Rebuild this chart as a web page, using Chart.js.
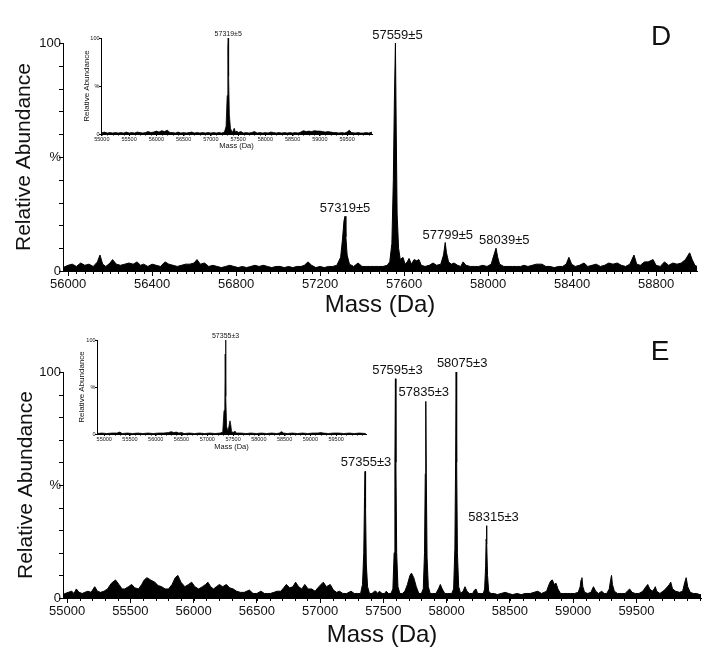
<!DOCTYPE html>
<html>
<head>
<meta charset="utf-8">
<script src="https://cdn.jsdelivr.net/npm/chart.js@4"></script>
<style>
  body { margin: 0; background: #fff; }
  #wrap { position: relative; width: 720px; height: 660px; }
  canvas { position: absolute; }
</style>
</head>
<body>
<div id="wrap">
  <canvas id="mainD" width="720" height="325" style="left:0;top:0"></canvas>
  <canvas id="mainE" width="720" height="335" style="left:0;top:325px"></canvas>
  <canvas id="insetD" width="330" height="140" style="left:60px;top:15px"></canvas>
  <canvas id="insetE" width="330" height="140" style="left:56px;top:320px"></canvas>
</div>
<script>
// panel D, main spectrum: [mass (Da), relative abundance %]
const spectrumD = [
  [55976,1.5],[56000,2.5],[56020,3],[56040,2],[56060,3.5],[56080,2.5],[56100,3],[56120,2],[56140,4],[56152,7],[56165,3],
  [56180,2],[56200,3.5],[56212,5],[56230,3],[56250,2.5],[56270,3],[56290,3.5],[56310,3],[56329,4],[56345,2.5],[56360,3],
  [56380,2],[56400,3],[56420,2.5],[56440,2],[56462,4],[56480,3],[56500,2.5],[56520,2],[56540,2.5],[56560,3],[56580,3],
  [56600,3.5],[56614,5],[56630,3],[56650,3.5],[56670,2],[56690,2.5],[56710,2],[56730,1.5],[56750,2],[56770,2.5],[56790,2],
  [56810,1.5],[56830,2],[56850,1.5],[56870,2],[56890,2.5],[56910,2],[56930,2.5],[56950,2],[56970,1.5],[56990,2],[57010,2],
  [57030,1.5],[57050,2],[57070,1.5],[57090,2],[57110,2],[57125,2.5],[57143,4],[57160,2.5],[57180,1.5],[57200,2],[57220,1.5],
  [57240,2],[57260,2],[57280,2.5],[57298,6],[57307,14],[57314,22],[57319,24],[57323,15],[57329,7],[57340,3],[57360,2],
  [57381,3.5],[57400,2],[57420,2],[57440,2],[57460,2],[57480,2],[57500,2],[57520,2.5],[57532,4],[57542,12],[57549,40],
  [57554,75],[57559,100],[57563,60],[57567,25],[57574,10],[57582,5],[57595,6],[57605,3],[57615,4],[57624,5.5],[57635,3],
  [57648,5],[57660,4.5],[57671,5],[57682,2.5],[57700,2],[57720,2.5],[57738,3.5],[57755,2.5],[57775,3],[57788,7],[57796,12.5],
  [57802,8],[57812,4],[57825,3],[57838,3.5],[57855,2.5],[57870,2],[57881,4],[57895,2.5],[57915,2],[57935,2],[57955,2],
  [57975,2.5],[57995,2],[58015,3],[58028,7],[58038,10],[58046,6],[58055,3],[58075,2],[58095,2],[58115,2],[58135,2],
  [58155,2],[58171,2.5],[58190,2],[58210,2.5],[58230,3],[58245,3],[58257,3],[58275,2],[58295,2],[58315,1.5],[58335,2],
  [58355,2],[58372,3],[58385,6],[58398,3],[58415,2],[58435,2.5],[58457,3.5],[58475,2],[58495,2.5],[58515,3],[58535,2],
  [58555,2.5],[58575,3.5],[58595,3],[58615,3.5],[58635,2.5],[58655,2],[58675,3],[58695,7],[58708,3],[58725,2.5],[58745,4],
  [58762,4],[58786,5],[58800,2.5],[58820,2],[58840,4],[58860,2.5],[58880,3.5],[58900,3],[58920,3.5],[58940,5],[58960,8],
  [58972,5],[58985,2.5],[58995,2]
];
const peakMassD = [57319, 57559, 57799, 58039];
const peakLabelsD = ['57319±5', '57559±5', '57799±5', '58039±5'];
const ticksD = [56000, 56400, 56800, 57200, 57600, 58000, 58400, 58800];

// panel D, inset spectrum
const insetSpectrumD = [
  [54985,1],[55050,2],[55100,1],[55150,1.5],[55200,1],[55250,1.5],[55300,1],[55350,1.5],[55400,1],[55450,2],[55500,1],
  [55550,1.5],[55600,1],[55650,2],[55700,1.5],[55750,1],[55800,1.5],[55850,2.5],[55900,1.5],[55950,2],[56000,3],[56050,2],
  [56100,3.5],[56150,2.5],[56200,4],[56250,1.5],[56300,1.5],[56350,1],[56400,2],[56450,1],[56500,1.5],[56550,1],[56600,1.5],
  [56650,2],[56700,1],[56750,1.5],[56800,1],[56850,1.5],[56900,1],[56950,1.5],[57000,1],[57050,1.5],[57100,1],[57150,1.5],
  [57200,1],[57250,2],[57280,8],[57300,40],[57312,90],[57319,100],[57326,60],[57340,20],[57360,6],[57380,3],[57400,2],
  [57430,6],[57450,2],[57480,3],[57500,1.5],[57550,2.5],[57600,1],[57650,1.5],[57700,1],[57750,1.5],[57800,2.5],[57850,1],
  [57900,1.5],[57950,1],[58000,1.5],[58050,1],[58100,2],[58150,1.5],[58200,1],[58250,1.5],[58300,1],[58350,1.5],[58400,1],
  [58450,1.5],[58500,1],[58550,1.5],[58600,1],[58650,2],[58700,3.5],[58750,2.5],[58800,3],[58850,2.5],[58900,3.5],[58950,3],
  [59000,3],[59050,2.5],[59100,2],[59150,2.5],[59200,2],[59250,1.5],[59300,1.5],[59350,1],[59400,1.5],[59450,1],[59500,2],
  [59540,4],[59580,1.5],[59650,1],[59700,1.5],[59750,1],[59800,1],[59850,1.5],[59900,1],[59955,2]
];
const insetPeakMassD = [57319];
const insetPeakLabelsD = ['57319±5'];
const insetTicks = [55000, 55500, 56000, 56500, 57000, 57500, 58000, 58500, 59000, 59500];

// panel E, main spectrum
const spectrumE = [
  [54968,1.5],[54985,2],[55010,2.5],[55037,3],[55055,2],[55073,4],[55095,2.5],[55120,2],[55140,2.5],[55165,3],[55190,2.5],
  [55219,5],[55240,3],[55265,2.5],[55292,3],[55320,4],[55350,6.5],[55383,8],[55410,6],[55435,4],[55456,4],[55485,5],
  [55511,6],[55535,4.5],[55565,4],[55590,6],[55610,8],[55631,9],[55660,8],[55693,7],[55720,5.5],[55748,5],[55775,4],
  [55802,4],[55830,6],[55855,9],[55876,10],[55900,7],[55931,5],[55960,6],[55985,7],[56010,5],[56040,4],[56070,5],[56095,6],
  [56113,7],[56135,5],[56157,4],[56180,5],[56204,6],[56230,5],[56259,6],[56285,4.5],[56313,4],[56340,3],[56370,2.5],
  [56400,2.5],[56441,3.5],[56470,2],[56500,2],[56532,3],[56560,2],[56585,2],[56606,2],[56635,2.5],[56660,3],[56690,3],
  [56712,4.5],[56733,6],[56760,4.5],[56785,5],[56806,7],[56830,5],[56855,4],[56879,6],[56905,4],[56934,4],[56960,3],
  [56990,5],[57025,7],[57050,5],[57080,6],[57105,3.5],[57130,2.5],[57153,3],[57180,2],[57210,2],[57244,3],[57270,2],
  [57298,2],[57320,2],[57335,6],[57345,20],[57351,45],[57355,56],[57359,40],[57365,15],[57375,5],[57390,2],[57410,2],
  [57430,3],[57441,3],[57455,2],[57468,3],[57490,2],[57510,2],[57522,3],[57540,2],[57560,2],[57575,4],[57585,20],[57591,60],
  [57595,97],[57599,60],[57605,20],[57615,5],[57630,2],[57650,2],[57670,3],[57690,6],[57710,10],[57722,11],[57740,9],
  [57760,5],[57780,2],[57800,2],[57815,4],[57825,20],[57831,55],[57835,87],[57839,55],[57845,18],[57855,5],[57870,2],
  [57890,2],[57915,2],[57935,4],[57950,6],[57965,4],[57985,2],[58005,2],[58025,2],[58040,2],[58055,4],[58065,22],[58071,62],
  [58075,100],[58079,60],[58085,20],[58095,5],[58110,2],[58130,3],[58145,5],[58160,3],[58180,2],[58205,2],[58220,3.5],
  [58232,4],[58245,2],[58270,2],[58290,2],[58300,4],[58308,14],[58312,26],[58315,32],[58318,24],[58323,10],[58332,3],
  [58350,2],[58377,2],[58400,1.5],[58430,2],[58463,2.5],[58490,2],[58520,1.5],[58557,2],[58590,1.5],[58620,2],[58660,2],
  [58690,2.5],[58720,3],[58750,2],[58790,3],[58809,6],[58822,7.5],[58835,8],[58850,6],[58865,6.5],[58879,4],[58900,2],
  [58925,2],[58952,2],[58980,2],[59010,2],[59040,2.5],[59055,5],[59062,8],[59069,9],[59076,5],[59090,2.5],[59115,2],
  [59140,2.5],[59160,5],[59178,3],[59200,2],[59225,3],[59245,2],[59265,2],[59285,4],[59296,8],[59303,10],[59310,6],
  [59325,3],[59350,2],[59380,2],[59410,2],[59446,4],[59465,2.5],[59490,2],[59520,2],[59550,3],[59575,5],[59589,6],
  [59605,4],[59625,3],[59640,4],[59649,5],[59660,3],[59685,2],[59710,3],[59730,4],[59745,5],[59760,6],[59771,7],[59785,4],
  [59810,3],[59840,2.5],[59865,3],[59882,7],[59893,9],[59905,5],[59925,2.5],[59950,2],[59975,2],[60000,1.5],[60010,1.5]
];
const peakMassE = [57355, 57595, 57835, 58075, 58315];
const peakLabelsE = ['57355±3', '57595±3', '57835±3', '58075±3', '58315±3'];
const ticksE = [55000, 55500, 56000, 56500, 57000, 57500, 58000, 58500, 59000, 59500];

// panel E, inset spectrum
const insetSpectrumE = [
  [54865,0.5],[54950,1],[55050,0.5],[55150,1],[55250,1],[55300,2],[55350,0.5],[55450,1],[55550,0.5],[55650,1],[55750,0.5],
  [55850,1],[55950,0.5],[56050,1],[56150,1],[56250,1.5],[56300,2.5],[56350,1.5],[56400,2],[56450,1],[56500,1.5],[56550,0.5],
  [56650,1],[56750,0.5],[56850,1],[56950,0.5],[57050,1],[57150,0.5],[57250,1],[57300,2],[57325,25],[57340,28],[57348,85],
  [57355,100],[57362,40],[57375,8],[57400,3],[57420,8],[57440,14],[57455,10],[57470,3],[57500,1.5],[57540,3],[57560,1],
  [57650,1],[57750,0.5],[57850,1],[57950,0.5],[58050,1],[58150,0.5],[58250,1],[58350,0.5],[58400,1],[58440,2.5],[58480,1],
  [58550,0.5],[58650,1],[58750,0.5],[58850,1],[58950,0.5],[59050,1],[59150,1],[59200,1.5],[59250,1],[59350,0.5],[59450,1],
  [59550,1],[59650,0.5],[59750,1],[59850,0.5],[59950,1],[60075,0.5]
];
const insetPeakMassE = [57355];
const insetPeakLabelsE = ['57355±3'];

const FONT = '"Liberation Sans", Arial, sans-serif';
Chart.defaults.font.family = FONT;
Chart.defaults.color = '#111';

function range(a, b, step) {
  const out = [];
  for (let v = a; v <= b; v += step) out.push(v);
  return out;
}

function peakTop(spec, m) {
  let top = 0;
  spec.forEach(p => { if (Math.abs(p[0] - m) <= 15 && p[1] > top) top = p[1]; });
  return top;
}

// small tick marks that Chart.js has no option for
const minorTicks = {
  id: 'minorTicks',
  afterDraw(chart, args, opts) {
    const {ctx, scales: {x, y}} = chart;
    ctx.save();
    ctx.strokeStyle = '#000';
    ctx.lineWidth = 1;
    ctx.beginPath();
    opts.x.forEach(v => {
      const px = Math.round(x.getPixelForValue(v)) + 0.5;
      ctx.moveTo(px, y.bottom);
      ctx.lineTo(px, y.bottom + opts.lenX);
    });
    opts.y.forEach(v => {
      const py = Math.round(y.getPixelForValue(v)) + 0.5;
      ctx.moveTo(x.left, py);
      ctx.lineTo(x.left - opts.lenY, py);
    });
    ctx.stroke();
    ctx.restore();
  }
};

const peakLabels = {
  id: 'peakLabels',
  afterDatasetsDraw(chart, args, opts) {
    const {ctx, scales: {x, y}} = chart;
    ctx.save();
    ctx.fillStyle = '#111';
    ctx.font = opts.size + 'px ' + FONT;
    ctx.textAlign = 'center';
    ctx.textBaseline = 'alphabetic';
    opts.masses.forEach((m, i) => {
      const top = peakTop(opts.spec, m);
      ctx.fillText(opts.texts[i], x.getPixelForValue(m) + (opts.shift[i] || 0), y.getPixelForValue(top) - opts.gap);
    });
    if (opts.panel) {
      ctx.font = opts.panelSize + 'px ' + FONT;
      ctx.textBaseline = 'middle';
      ctx.fillText(opts.panel, opts.panelX, opts.panelY);
    }
    ctx.restore();
  }
};

function spectrumChart(id, o) {
  return new Chart(document.getElementById(id), {
    type: 'line',
    data: {
      datasets: [{
        data: o.spec.map(p => ({x: p[0], y: p[1]})),
        fill: 'origin',
        backgroundColor: '#000',
        borderColor: '#000',
        borderWidth: o.lw,
        pointRadius: 0,
        tension: 0
      }]
    },
    options: {
      responsive: false,
      animation: false,
      events: [],
      layout: {padding: o.pad},
      plugins: {
        legend: {display: false},
        tooltip: {enabled: false},
        minorTicks: {x: o.minorX, y: o.minorY, lenX: o.minorLen, lenY: o.yTickLen},
        peakLabels: {
          spec: o.spec, masses: o.peaks, texts: o.labels, shift: o.shift || [],
          size: o.labelSize, gap: o.gap,
          panel: o.panel, panelSize: 28, panelX: o.panelX, panelY: o.panelY
        }
      },
      scales: {
        x: {
          type: 'linear', min: o.xMin, max: o.xMax,
          afterBuildTicks: s => { s.ticks = o.xTicks.map(v => ({value: v})); },
          afterFit: s => { s.height = o.xH; },
          ticks: {autoSkip: false, maxRotation: 0, padding: o.xPad, font: {size: o.tickSize}, callback: v => String(v)},
          grid: {display: true, drawOnChartArea: false, drawTicks: true, tickLength: o.tickLen, color: '#000'},
          border: {display: true, color: '#000', width: 1},
          title: {display: true, text: 'Mass (Da)', font: {size: o.xTitleSize}, padding: {top: 0, bottom: o.xTitlePad}}
        },
        y: {
          type: 'linear', min: 0, max: 100,
          afterBuildTicks: s => { s.ticks = [0, 50, 100].map(v => ({value: v})); },
          afterFit: s => { s.width = o.yW; },
          ticks: {padding: o.yPad, font: {size: o.tickSize}, callback: v => v === 50 ? '%' : String(v)},
          grid: {display: false, drawTicks: false},
          border: {display: true, color: '#000', width: 1},
          title: {display: true, text: 'Relative Abundance', font: {size: o.yTitleSize}, padding: {top: o.yTitlePad, bottom: 0}}
        }
      }
    },
    plugins: [minorTicks, peakLabels]
  });
}

spectrumChart('mainD', {
  spec: spectrumD, peaks: peakMassD, labels: peakLabelsD, shift: [0, 2, 2, 8],
  xMin: 55976, xMax: 58995, xTicks: ticksD, minorX: range(56000, 58980, 40), minorY: range(0, 100, 10),
  pad: {top: 43, right: 23, left: 0, bottom: 0}, xH: 54, yW: 63,
  lw: 1, tickSize: 13, tickLen: 5, minorLen: 3, yTickLen: 4, xPad: 1, yPad: 2,
  xTitleSize: 24, xTitlePad: 5, yTitleSize: 21, yTitlePad: 12,
  labelSize: 13, gap: 4, panel: 'D', panelX: 661, panelY: 37
});

spectrumChart('mainE', {
  spec: spectrumE, peaks: peakMassE, labels: peakLabelsE, shift: [1, 2, -2, 6, 7],
  xMin: 54968, xMax: 60010, xTicks: ticksE, minorX: range(55000, 60000, 100), minorY: range(0, 100, 10),
  pad: {top: 47, right: 19, left: 0, bottom: 0}, xH: 62, yW: 63,
  lw: 1, tickSize: 13, tickLen: 5, minorLen: 3, yTickLen: 4, xPad: 1, yPad: 2,
  xTitleSize: 24, xTitlePad: 10, yTitleSize: 21, yTitlePad: 14,
  labelSize: 13, gap: 5, panel: 'E', panelX: 660, panelY: 27
});

spectrumChart('insetD', {
  spec: insetSpectrumD, peaks: insetPeakMassD, labels: insetPeakLabelsD,
  xMin: 54985, xMax: 59957, xTicks: insetTicks, minorX: range(55000, 59900, 100), minorY: [0, 50, 100],
  pad: {top: 23, right: 18, left: 0, bottom: 0}, xH: 21, yW: 41,
  lw: 0.8, tickSize: 5.5, tickLen: 2, minorLen: 1.5, yTickLen: 2, xPad: 0, yPad: 1.5,
  xTitleSize: 7.5, xTitlePad: 4.5, yTitleSize: 8, yTitlePad: 22,
  labelSize: 7, gap: 2
});

spectrumChart('insetE', {
  spec: insetSpectrumE, peaks: insetPeakMassE, labels: insetPeakLabelsE,
  xMin: 54860, xMax: 60080, xTicks: insetTicks, minorX: range(55000, 60000, 100), minorY: [0, 50, 100],
  pad: {top: 20, right: 20, left: 0, bottom: 0}, xH: 26, yW: 41,
  lw: 0.8, tickSize: 5.5, tickLen: 2, minorLen: 1.5, yTickLen: 2, xPad: 0, yPad: 1.5,
  xTitleSize: 7.5, xTitlePad: 8.5, yTitleSize: 8, yTitlePad: 21,
  labelSize: 7, gap: 2
});
</script>
</body>
</html>
